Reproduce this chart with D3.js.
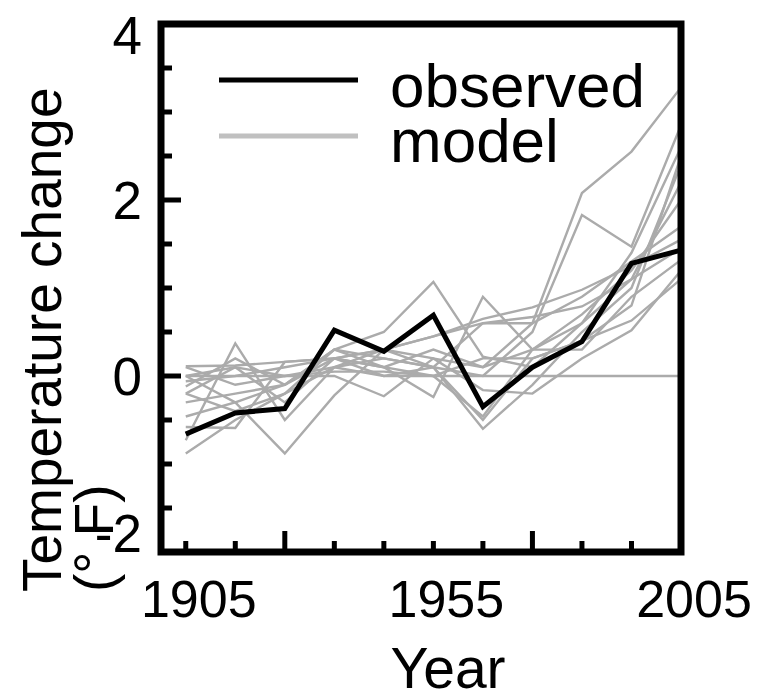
<!DOCTYPE html>
<html>
<head>
<meta charset="utf-8">
<script src="https://cdn.jsdelivr.net/npm/d3@7"></script>
<style>
  body { margin: 0; background: #fff; }
  text { font-family: "Liberation Sans", Arial, sans-serif; fill: #000; }
</style>
</head>
<body>
<script>
const m = {
    width: 757,
    height: 695
}

// decades the series are sampled at
const years = [1905, 1915, 1925, 1935, 1945, 1955, 1965, 1975, 1985, 1995, 2005]

const observed = [-0.66, -0.42, -0.37, 0.52, 0.28, 0.69, -0.35, 0.10, 0.39, 1.28, 1.43]

const models = [
    [-0.20, 0.10, -0.30, 0.20, 0.10, 0.30, 0.10, 0.60, 2.08, 2.55, 3.28],
    [0.00, -0.30, -0.10, 0.30, 0.20, 0.10, 0.00, 0.50, 1.83, 1.47, 2.85],
    [0.00, 0.00, 0.00, 0.05, 0.05, 0.00, 0.00, 0.00, 0.00, 0.00, 0.00],
    [0.11, 0.12, 0.16, 0.20, 0.30, 0.45, 0.65, 0.78, 0.98, 1.25, 1.55],
    [-0.06, 0.00, 0.10, 0.20, 0.30, 0.45, 0.60, 0.67, 0.79, 1.10, 1.45],
    [-0.88, -0.50, -0.20, 0.10, 0.30, 0.10, -0.60, -0.10, 0.50, 1.00, 2.40],
    [-0.73, 0.37, -0.50, 0.10, 0.00, 0.10, -0.50, 0.20, 0.40, 0.63, 1.10],
    [-0.58, -0.59, 0.16, 0.20, 0.10, -0.24, 0.90, 0.30, 0.30, 0.90, 1.32],
    [-0.46, -0.30, -0.88, -0.22, 0.30, 0.20, -0.16, -0.20, 0.20, 0.52, 1.20],
    [-0.12, 0.20, -0.10, 0.30, 0.50, 1.07, 0.22, 0.10, 0.60, 1.40, 2.60],
    [0.10, -0.10, 0.00, 0.00, -0.23, 0.20, 0.10, 0.30, 0.60, 1.10, 2.20],
    [-0.20, -0.40, -0.20, 0.30, 0.10, 0.00, -0.46, 0.30, 0.70, 1.20, 2.00],
    [0.00, 0.10, 0.00, 0.10, 0.20, 0.10, 0.60, 0.60, 0.90, 1.30, 1.70],
    [-0.30, -0.20, -0.10, 0.20, 0.00, 0.00, 0.20, 0.20, 0.40, 0.80, 2.50]
]

const xTickLabels = [1905, 1955, 2005]
const xMajorTicks = [1925, 1975]
const xMinorTicks = [1905, 1915, 1935, 1945, 1955, 1965, 1985, 1995]
const yTickLabels = [4, 2, 0, -2]
const yMinorTicks = [3.5, 3, 2.5, 1.5, 1, 0.5, -0.5, -1, -1.5]

const legendNames = ['observed', 'model']

const svg = d3.select('body').append('svg')
    .attr('width', m.width)
    .attr('height', m.height)

const x = d3.scaleLinear().domain([1900, 2005]).range([161, 681])
const y = d3.scaleLinear().domain([-2, 4]).range([552, 24])

const line = d3.line()
    .x((d, i) => x(years[i]))
    .y(d => y(d))

// model runs
svg.append('g')
    .selectAll('path')
    .data(models)
    .enter()
    .append('path')
        .attr('d', line)
        .attr('fill', 'none')
        .attr('stroke', '#ababab')
        .attr('stroke-width', 2.4)

svg.append('path')
    .datum(observed)
    .attr('d', line)
    .attr('fill', 'none')
    .attr('stroke', '#000')
    .attr('stroke-width', 5)

// frame
svg.append('rect')
    .attr('x', x(1900))
    .attr('y', y(4))
    .attr('width', x(2005) - x(1900))
    .attr('height', y(-2) - y(4))
    .attr('fill', 'none')
    .attr('stroke', '#000')
    .attr('stroke-width', 7)

// y ticks, inward
const yt = svg.append('g')
yt.selectAll('.ymaj')
    .data(yTickLabels)
    .enter()
    .append('line')
        .attr('x1', x(1900)).attr('x2', x(1900) + 20)
        .attr('y1', d => y(d)).attr('y2', d => y(d))
        .attr('stroke', '#000').attr('stroke-width', 5)
yt.selectAll('.ymin')
    .data(yMinorTicks)
    .enter()
    .append('line')
        .attr('x1', x(1900)).attr('x2', x(1900) + 11)
        .attr('y1', d => y(d)).attr('y2', d => y(d))
        .attr('stroke', '#000').attr('stroke-width', 5)
// labels at the ends are kept inside the frame
yt.selectAll('text')
    .data(yTickLabels)
    .enter()
    .append('text')
        .attr('x', 142)
        .attr('y', d => Math.min(Math.max(y(d), 35), 533))
        .attr('dy', '0.36em')
        .attr('text-anchor', 'end')
        .attr('font-size', 53)
        .text(d => d)

// x ticks, inward
const xt = svg.append('g')
xt.selectAll('.xmaj')
    .data(xMajorTicks)
    .enter()
    .append('line')
        .attr('x1', d => x(d)).attr('x2', d => x(d))
        .attr('y1', y(-2)).attr('y2', y(-2) - 21)
        .attr('stroke', '#000').attr('stroke-width', 5)
xt.selectAll('.xmin')
    .data(xMinorTicks)
    .enter()
    .append('line')
        .attr('x1', d => x(d)).attr('x2', d => x(d))
        .attr('y1', y(-2)).attr('y2', y(-2) - 11)
        .attr('stroke', '#000').attr('stroke-width', 5)
xt.selectAll('text')
    .data(xTickLabels)
    .enter()
    .append('text')
        .attr('x', d => x(d) + 13)
        .attr('y', 617)
        .attr('text-anchor', 'middle')
        .attr('font-size', 52)
        .text(d => d)

// axis titles
svg.append('text')
    .attr('x', 448)
    .attr('y', 688)
    .attr('text-anchor', 'middle')
    .attr('font-size', 57)
    .text('Year')

const yTitle = svg.append('text')
    .attr('transform', 'translate(0,592) rotate(-90)')
    .attr('font-size', 55)
yTitle.append('tspan').attr('x', 0).attr('y', 61).text('Temperature change')
yTitle.append('tspan').attr('x', 0).attr('y', 113).text('(° F)')

// legend
const legend = svg.append('g')
legend.selectAll('line')
    .data(legendNames)
    .enter()
    .append('line')
        .attr('x1', 219).attr('x2', 358)
        .attr('y1', (d, i) => 80 + i * 56).attr('y2', (d, i) => 80 + i * 56)
        .attr('stroke', (d, i) => i === 0 ? '#000' : '#c0c0c0')
        .attr('stroke-width', 5)
legend.selectAll('text')
    .data(legendNames)
    .enter()
    .append('text')
        .attr('x', 390)
        .attr('y', (d, i) => 107 + i * 55)
        .attr('font-size', 62)
        .text(d => d)
</script>
</body>
</html>
